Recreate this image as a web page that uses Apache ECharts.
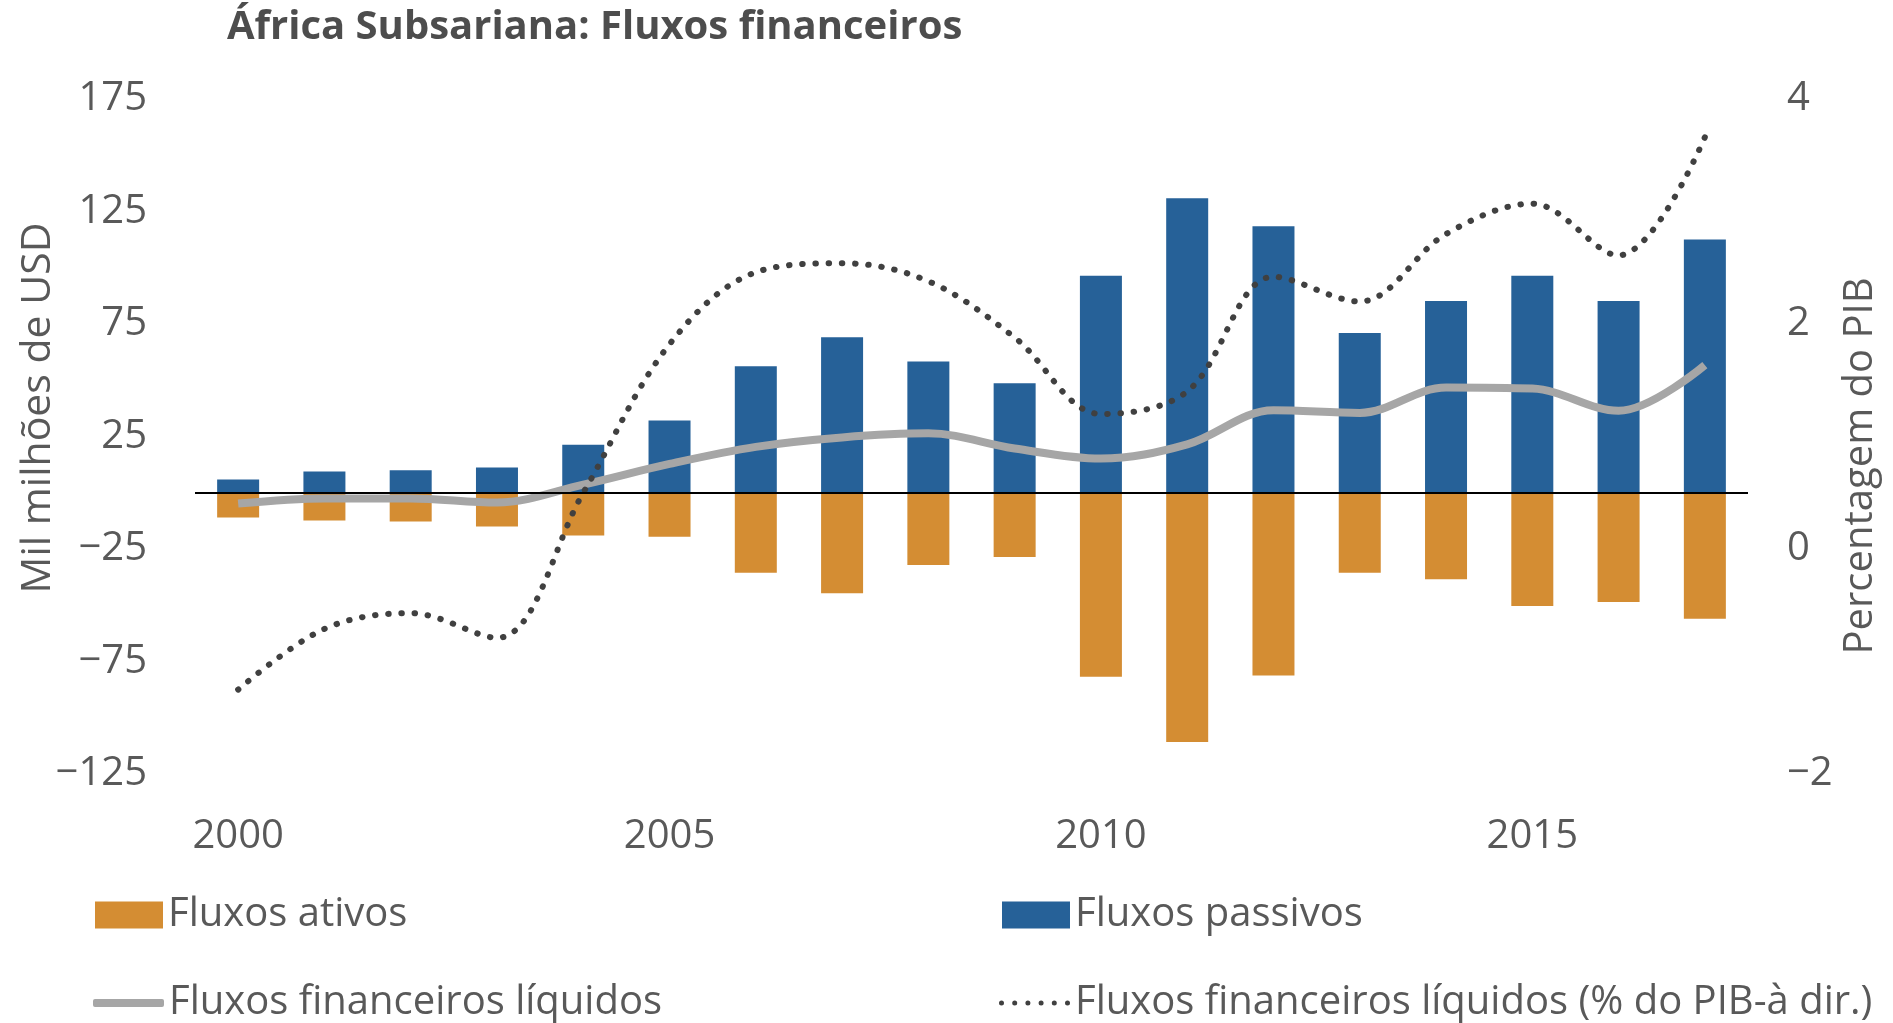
<!DOCTYPE html>
<html>
<head>
<meta charset="utf-8">
<title>África Subsariana: Fluxos financeiros</title>
<script src="https://cdn.jsdelivr.net/npm/echarts@6/dist/echarts.min.js"></script>
<style>
  html, body { margin: 0; padding: 0; background: #fff; }
  #chart { width: 1893px; height: 1023px; }
</style>
</head>
<body>
<div id="chart"></div>
<script>
// anos
var years = ['2000', '2001', '2002', '2003', '2004', '2005', '2006', '2007', '2008',
  '2009', '2010', '2011', '2012', '2013', '2014', '2015', '2016', '2017']
// mil milhões de USD
var ativos = [-11, -12.3, -12.8, -15, -19, -19.5, -35.5, -44.7, -32.1,
  -28.6, -81.8, -110.8, -81.2, -35.5, -38.4, -50.3, -48.5, -56]
var passivos = [5.9, 9.4, 10, 11.2, 21.3, 32.1, 56.2, 69.1, 58.3,
  48.7, 96.5, 130.9, 118.4, 71, 85.2, 96.5, 85.2, 112.6]
var liquidos = [-4.8, -2.5, -2.5, -4.3, 3.6, 12.8, 20.4, 24.6, 26.4,
  19.7, 15.2, 21.5, 36.7, 35.5, 46.8, 46.3, 36.4, 56.7]
// % do PIB (eixo dir.)
var liquidosPib = [-1.25, -0.71, -0.57, -0.79, 0.5, 1.82, 2.46, 2.54, 2.38,
  1.88, 1.2, 1.4, 2.42, 2.2, 2.8, 3.07, 2.61, 3.66]

var leftTicks = [-125, -75, -25, 25, 75, 125, 175]

var FONT = '"Open Sans", "Noto Sans", sans-serif'
var TXT = '#595959'

function minus(v) {
  return String(v).replace('-', '\u2212')
}

// icone pontilhado da legenda: 6 pontos
var dotIcon = 'path://'
for (var k = 0; k < 6; k++) {
  var cx = 2.5 + k * 13.2
  dotIcon += 'M' + (cx - 2.5) + ',2.5a2.5,2.5 0 1,0 5,0a2.5,2.5 0 1,0 -5,0Z'
}

var chart = echarts.init(document.getElementById('chart'))

var legendText = { fontSize: 40, color: TXT, fontFamily: FONT }

chart.setOption({
  backgroundColor: '#fff',
  animation: false,
  textStyle: { fontFamily: FONT },
  title: {
    text: 'África Subsariana: Fluxos financeiros',
    left: 227,
    top: 8,
    padding: 0,
    textStyle: {
      fontSize: 40,
      fontWeight: 'bold',
      color: '#4d4d4d',
      fontFamily: FONT
    }
  },
  grid: {
    left: 195,
    right: 145,
    top: 99,
    bottom: 249,
    containLabel: false
  },
  legend: [
    {
      data: ['Fluxos ativos'],
      left: 90, top: 890,
      itemWidth: 68, itemHeight: 27, icon: 'rect',
      textStyle: legendText
    },
    {
      data: ['Fluxos passivos'],
      left: 997, top: 890,
      itemWidth: 68, itemHeight: 27, icon: 'rect',
      textStyle: legendText
    },
    {
      data: [{ name: 'Fluxos financeiros líquidos', icon: 'roundRect' }],
      left: 88, top: 978,
      itemWidth: 71, itemHeight: 8,
      textStyle: legendText
    },
    {
      data: [{ name: 'Fluxos financeiros líquidos (% do PIB-à dir.)', icon: dotIcon }],
      left: 994, top: 978,
      itemWidth: 71, itemHeight: 5,
      textStyle: legendText
    }
  ],
  xAxis: {
    type: 'category',
    data: years,
    axisLine: { show: false },
    axisTick: { show: false },
    splitLine: { show: false },
    axisLabel: {
      interval: 4,
      margin: 43,
      fontSize: 40,
      color: TXT,
      fontFamily: FONT
    }
  },
  yAxis: [
    {
      type: 'value',
      min: -125,
      max: 175,
      interval: 25,
      name: 'Mil milhões de USD',
      nameLocation: 'middle',
      nameRotate: 90,
      nameGap: 136,
      nameMoveOverlap: false,
      nameTextStyle: {
        fontSize: 41,
        color: TXT,
        fontFamily: FONT,
        padding: [0, 0, 0, 57]
      },
      axisLine: { show: false },
      axisTick: { show: false },
      splitLine: { show: false },
      axisLabel: {
        margin: 48,
        fontSize: 40,
        color: TXT,
        fontFamily: FONT,
        formatter: function(v) {
          return leftTicks.indexOf(v) >= 0 ? minus(v) : ''
        }
      }
    },
    {
      type: 'value',
      min: -2,
      max: 4,
      interval: 2,
      position: 'right',
      name: 'Percentagem do PIB',
      nameLocation: 'middle',
      nameRotate: 90,
      nameGap: 93,
      nameMoveOverlap: false,
      nameTextStyle: {
        fontSize: 40,
        color: TXT,
        fontFamily: FONT,
        padding: [0, 59, 0, 0]
      },
      axisLine: { show: false },
      axisTick: { show: false },
      splitLine: { show: false },
      axisLabel: {
        margin: 39,
        fontSize: 40,
        color: TXT,
        fontFamily: FONT,
        formatter: function(v) {
          return minus(v)
        }
      }
    }
  ],
  series: [
    {
      name: 'Fluxos ativos',
      type: 'bar',
      data: ativos,
      barWidth: 42,
      barGap: '-100%',
      itemStyle: { color: '#D48D33' }
    },
    {
      name: 'Fluxos passivos',
      type: 'bar',
      data: passivos,
      barWidth: 42,
      barGap: '-100%',
      itemStyle: { color: '#266198' },
      markLine: {
        silent: true,
        symbol: ['none', 'none'],
        label: { show: false },
        lineStyle: { color: '#000', width: 2, type: 'solid' },
        data: [{ yAxis: 0 }]
      }
    },
    {
      name: 'Fluxos financeiros líquidos',
      type: 'line',
      data: liquidos,
      smooth: 0.35,
      symbol: 'none',
      lineStyle: { color: '#A6A6A6', width: 8 },
      itemStyle: { color: '#A6A6A6' },
      z: 3
    },
    {
      name: 'Fluxos financeiros líquidos (% do PIB-à dir.)',
      type: 'line',
      yAxisIndex: 1,
      data: liquidosPib,
      smooth: 0.35,
      symbol: 'none',
      lineStyle: { color: '#404040', width: 6, type: [0.5, 12.7], cap: 'round' },
      itemStyle: { color: '#404040' },
      z: 4
    }
  ]
})
</script>
</body>
</html>
